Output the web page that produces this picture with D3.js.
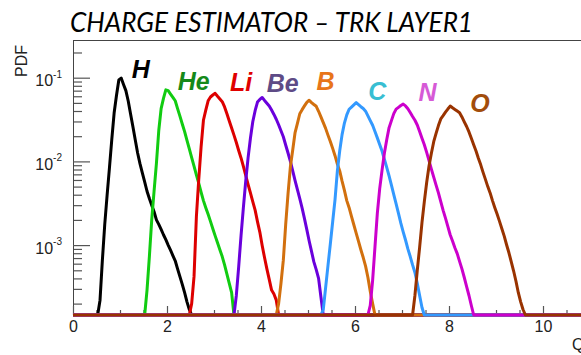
<!DOCTYPE html>
<html>
<head>
<meta charset="utf-8">
<script src="https://cdn.jsdelivr.net/npm/d3@7"></script>
<style>
  html, body { margin: 0; padding: 0; background: #fff; }
  svg { display: block; }
</style>
</head>
<body>
<script>
// Charge estimator distributions, one normalised histogram per nucleus.
const species = ["H", "He", "Li", "Be", "B", "C", "N", "O"];
const binWidth = 0.05;
const histMin = 0, histMax = 12;
// lower edge (in Q) of the first filled bin of each histogram
const firstEdge = [0.55, 1.55, 2.5, 3.45, 4.35, 5.3, 6.3, 7.25];

const pdfH = [0.00022, 0.00066, 0.00175, 0.0039, 0.0083, 0.0182, 0.0378, 0.0613, 0.094, 0.099,
  0.083, 0.070, 0.0527, 0.0368, 0.026, 0.018, 0.0126, 0.0094, 0.0073, 0.0057,
  0.0044, 0.0036, 0.0030, 0.0025, 0.0020, 0.00177, 0.00154, 0.00133, 0.00116, 0.00100,
  0.00087, 0.00075, 0.00065, 0.00052, 0.00042, 0.00034, 0.00027, 0.00021, 0.00017];
const pdfHe = [0.00029, 0.00073, 0.0020, 0.0044, 0.0095, 0.0234, 0.0427, 0.0567, 0.0715, 0.070,
  0.0638, 0.0583, 0.053, 0.0427, 0.0347, 0.028, 0.0227, 0.0178, 0.0141, 0.0111,
  0.0088, 0.0069, 0.0055, 0.0043, 0.0034, 0.0028, 0.00233, 0.00192, 0.00157, 0.00129,
  0.00107, 0.00088, 0.00073, 0.00058, 0.00045, 0.00035, 0.00027];
const pdfLi = [0.00020, 0.00042, 0.00217, 0.0060, 0.0148, 0.031, 0.041, 0.053, 0.0588, 0.0621,
  0.065, 0.060, 0.0557, 0.0517, 0.0447, 0.037, 0.0304, 0.025, 0.0206, 0.0168,
  0.0135, 0.011, 0.0087, 0.0068, 0.0053, 0.0042, 0.0033, 0.00262, 0.00191, 0.00143,
  0.00099, 0.00071, 0.00052, 0.00039, 0.00029, 0.00026, 0.00022];
const pdfBe = [0.00025, 0.00055, 0.00129, 0.0028, 0.0058, 0.011, 0.0189, 0.0298, 0.0403, 0.0512,
  0.055, 0.058, 0.0535, 0.0496, 0.046, 0.041, 0.0364, 0.0319, 0.0274, 0.0232,
  0.0197, 0.0157, 0.0126, 0.0100, 0.0077, 0.0059, 0.0046, 0.0036, 0.00277, 0.00207,
  0.00153, 0.00112, 0.00084, 0.00063, 0.00051, 0.00040, 0.00024];
const pdfB = [0.00020, 0.00035, 0.00066, 0.00176, 0.0041, 0.0086, 0.0137, 0.0221, 0.0285, 0.0371,
  0.0415, 0.046, 0.0508, 0.0538, 0.0504, 0.0478, 0.0455, 0.0397, 0.034, 0.029,
  0.0248, 0.0206, 0.0173, 0.0143, 0.0117, 0.0093, 0.0077, 0.0058, 0.0045, 0.0034,
  0.0028, 0.0022, 0.00175, 0.00139, 0.00111, 0.00088, 0.00071, 0.00056, 0.00041, 0.00028,
  0.00020];
const pdfC = [0.00017, 0.00031, 0.00057, 0.00103, 0.0019, 0.0035, 0.0077, 0.0134, 0.0209, 0.0287,
  0.0359, 0.042, 0.0446, 0.0474, 0.0503, 0.0476, 0.045, 0.0428, 0.0398, 0.035,
  0.0307, 0.027, 0.0228, 0.0191, 0.0159, 0.0133, 0.0106, 0.0085, 0.0067, 0.0052,
  0.0040, 0.0031, 0.0024, 0.00183, 0.00144, 0.00115, 0.00090, 0.00073, 0.00058, 0.00047,
  0.00035, 0.00025, 0.00018];
const pdfN = [0.00019, 0.00038, 0.00095, 0.0024, 0.0047, 0.0078, 0.0125, 0.0181, 0.0253, 0.0307,
  0.0372, 0.0421, 0.0442, 0.0465, 0.0483, 0.046, 0.0426, 0.0384, 0.0344, 0.031,
  0.0272, 0.0228, 0.0189, 0.0158, 0.0128, 0.0102, 0.0081, 0.0065, 0.0052, 0.0042,
  0.0033, 0.0026, 0.0021, 0.00167, 0.00133, 0.00112, 0.00093, 0.00079, 0.00064, 0.00052,
  0.00041, 0.00032, 0.00025, 0.00019];
const pdfO = [0.00025, 0.0005, 0.00094, 0.00186, 0.0033, 0.0056, 0.0088, 0.0125, 0.0172, 0.0216,
  0.0268, 0.0322, 0.0352, 0.0387, 0.0422, 0.0458, 0.0437, 0.0418, 0.040, 0.0382,
  0.034, 0.0297, 0.0261, 0.0225, 0.0189, 0.0158, 0.0133, 0.0109, 0.0091, 0.0074,
  0.0061, 0.0050, 0.0042, 0.0034, 0.0028, 0.00233, 0.00192, 0.00157, 0.00128, 0.00101,
  0.00081, 0.00063, 0.00049, 0.00037, 0.00027, 0.00021, 0.00017];

// where each nucleus name is written (Q, PDF)
const labelQ = [1.25, 2.23, 3.34, 4.12, 5.18, 6.28, 7.35, 8.45];
const labelPDF = [0.098, 0.071, 0.069, 0.0675, 0.071, 0.054, 0.0527, 0.039];

const xTickValues = [0, 2, 4, 6, 8, 10];
const yTickValues = [1e-1, 1e-2, 1e-3];
const yTickExponents = ["-1", "-2", "-3"];

const lineColors = ["#000000", "#11cc11", "#dd0000", "#6a00dc", "#d2700e", "#3399ff", "#cc00cc", "#993300"];
const labelColors = ["#000000", "#15891a", "#e00000", "#5e4b86", "#e8751a", "#38bed2", "#d65ad6", "#a24d0c"];

const W = 581, H = 355;
const svg = d3.select("body").append("svg").attr("width", W).attr("height", H)
  .style("font-family", "'Liberation Sans', Arial, sans-serif");

const x = d3.scaleLinear().domain([0, 12]).range([73, 637]);
const y = d3.scaleLog().domain([1.462e-4, 0.282]).range([315, 40]);
const yMin = y.domain()[0];

// full binned histograms over the axis range, sampled at bin centres
const nBins = Math.round((histMax - histMin) / binWidth);
const pdfs = [pdfH, pdfHe, pdfLi, pdfBe, pdfB, pdfC, pdfN, pdfO];
const histos = species.map((name, i) => {
  const bins = new Array(nBins).fill(0);
  const off = Math.round((firstEdge[i] - histMin) / binWidth);
  pdfs[i].forEach((v, k) => { bins[off + k] = v; });
  const pts = [{ q: histMin, v: bins[0] }];
  bins.forEach((v, k) => pts.push({ q: histMin + (k + 0.5) * binWidth, v }));
  pts.push({ q: histMax, v: bins[nBins - 1] });
  return { name, pts };
});

// frame
svg.append("line").attr("x1", 73).attr("x2", W).attr("y1", 40.5).attr("y2", 40.5)
  .attr("stroke", "#444").attr("stroke-width", 1);

// y axis: minor ticks
const yMinor = [];
for (let e = -4; e <= -1; e++) for (let k = 2; k <= 9; k++) {
  const v = k * Math.pow(10, e);
  if (v > yMin && v < y.domain()[1]) yMinor.push(v);
}
const gyMinor = svg.append("g").attr("transform", "translate(73,0)")
  .call(d3.axisLeft(y).tickValues(yMinor).tickSize(-9).tickFormat(""));
const gyMajor = svg.append("g").attr("transform", "translate(73,0)")
  .call(d3.axisLeft(y).tickValues(yTickValues).tickSize(-17).tickFormat(""));
[gyMinor, gyMajor].forEach(g => {
  g.select(".domain").attr("stroke", "#444").attr("d", "M0.5,40V315");
  g.selectAll(".tick line").attr("stroke", "#555").attr("stroke-width", 1.2);
});

// y tick labels 10^n
yTickValues.forEach((v, i) => {
  const t = svg.append("text").attr("x", 62).attr("y", y(v) + 8.5)
    .attr("text-anchor", "end").attr("fill", "#222");
  t.append("tspan").attr("font-size", 16).text("10");
  t.append("tspan").attr("font-size", 10).attr("dy", -8.5).text(yTickExponents[i]);
});

// x axis ticks
const xMinor = d3.range(0, 12.01, 0.5).filter(q => q % 2 !== 0);
const gxMinor = svg.append("g").attr("transform", "translate(0,315)")
  .call(d3.axisBottom(x).tickValues(xMinor).tickSize(-5).tickFormat(""));
const gxMajor = svg.append("g").attr("transform", "translate(0,315)")
  .call(d3.axisBottom(x).tickValues(xTickValues).tickSize(-9).tickFormat(d3.format("d")).tickPadding(0));
[gxMinor, gxMajor].forEach(g => {
  g.select(".domain").attr("stroke", "#444");
  g.selectAll(".tick line").attr("stroke", "#555").attr("stroke-width", 1.2);
});
gxMajor.selectAll(".tick text").attr("font-size", 16).attr("fill", "#222")
  .attr("font-family", "'Liberation Sans', Arial, sans-serif")
  .attr("dy", null).attr("y", 17);

// axis titles
svg.append("text").attr("x", 572).attr("y", 350).attr("font-size", 16).attr("fill", "#222").text("Q");
svg.append("text").attr("transform", "translate(27,45) rotate(-90)")
  .attr("text-anchor", "end").attr("font-size", 16).attr("fill", "#222").text("PDF");

// histograms; empty bins sit on the bottom of the frame
const line = d3.line()
  .x(d => x(d.q))
  .y(d => y(Math.max(d.v, yMin)))
  .curve(d3.curveLinear);
svg.append("g").selectAll("path").data(histos).join("path")
  .attr("d", d => line(d.pts))
  .attr("fill", "none")
  .attr("stroke", (d, i) => lineColors[i])
  .attr("stroke-width", 3)
  .attr("stroke-linejoin", "round");

// nucleus names
svg.append("g").selectAll("text").data(species).join("text")
  .attr("x", (d, i) => x(labelQ[i]))
  .attr("y", (d, i) => y(labelPDF[i]))
  .attr("font-size", 25)
  .attr("font-weight", "bold")
  .attr("font-style", "italic")
  .attr("fill", (d, i) => labelColors[i])
  .text(d => d);

// title
svg.append("text").attr("x", 70).attr("y", 31.5)
  .attr("font-family", "Lato, 'Open Sans', sans-serif")
  .attr("font-style", "italic").attr("font-size", 27)
  .attr("textLength", 403).attr("lengthAdjust", "spacingAndGlyphs")
  .attr("fill", "#000")
  .text("CHARGE ESTIMATOR \u2013 TRK LAYER1");
</script>
</body>
</html>
